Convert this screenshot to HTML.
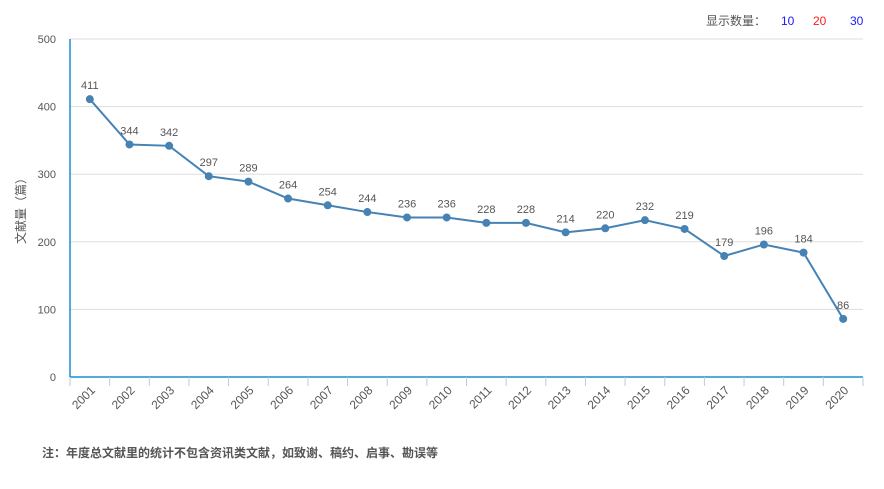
<!DOCTYPE html>
<html><head><meta charset="utf-8"><style>
body{margin:0;background:#fff;font-family:"Liberation Sans","Noto Sans CJK SC",sans-serif;}
svg text{font-family:"Liberation Sans","Noto Sans CJK SC",sans-serif;}
</style></head><body>
<svg width="884" height="484">
<g>
<text x="706" y="25" font-size="12" fill="#555">显示数量：</text>
<text x="781" y="25" font-size="12" fill="#1a1aff">10</text>
<text x="813" y="25" font-size="12" fill="#ff1a1a">20</text>
<text x="850" y="25" font-size="12" fill="#1a1aff">30</text>
</g>
<g id="grid"></g><g id="axes"></g><g id="series"></g>
<text transform="translate(25,208) rotate(-90)" text-anchor="middle" font-size="12" fill="#555">文献量（篇）</text>
<text x="42" y="457" font-size="12" font-weight="bold" fill="#555">注：年度总文献里的统计不包含资讯类文献，如致谢、稿约、启事、勘误等</text>
</svg>
<script>
const categories=["2001","2002","2003","2004","2005","2006","2007","2008","2009","2010","2011","2012","2013","2014","2015","2016","2017","2018","2019","2020"];
const values=[411,344,342,297,289,264,254,244,236,236,228,228,214,220,232,219,179,196,184,86];
const yTicks=[0,100,200,300,400,500];
const NS="http://www.w3.org/2000/svg";
const X0=70,X1=863,Y0=377,Y1=39,YMAX=500;
const bw=(X1-X0)/categories.length;
const xs=i=>X0+bw*(i+0.5);
const ys=v=>Y0-(v/YMAX)*(Y0-Y1);
function mk(t,a,p){const e=document.createElementNS(NS,t);for(const k in a)e.setAttribute(k,a[k]);p.appendChild(e);return e;}
const grid=document.getElementById('grid'),axes=document.getElementById('axes'),ser=document.getElementById('series');
yTicks.forEach(t=>{
 if(t>0){const l=mk('line',{x1:X0,x2:X1,y1:ys(t),y2:ys(t),stroke:'#ddd'},grid);
 
 }
 const tx=mk('text',{x:56,y:ys(t)+4,'text-anchor':'end','font-size':11,fill:'#555'},axes);tx.textContent=t;
 
 
});
const ya=mk('line',{x1:X0,x2:X0,y1:Y1,y2:Y0,stroke:'#1a8fd0','stroke-width':1.5},axes);


const xa=mk('line',{x1:X0,x2:X1,y1:Y0,y2:Y0,stroke:'#1a8fd0','stroke-width':1.5},axes);


for(let i=0;i<=categories.length;i++){mk('line',{x1:X0+bw*i,x2:X0+bw*i,y1:Y0,y2:Y0+9,stroke:'#bcd'},axes);}
categories.forEach((c,i)=>{
 const x=xs(i);
 const t=mk('text',{x:x+6,y:Y0+14,'text-anchor':'end','font-size':12,fill:'#555',transform:`rotate(-45 ${x+6} ${Y0+14})`},axes);t.textContent=c;
 
 
});
const pl=mk('polyline',{points:values.map((v,i)=>xs(i)+','+ys(v)).join(' '),fill:'none',stroke:'#4682b4','stroke-width':2},ser);


values.forEach((v,i)=>{
 const c=mk('circle',{cx:xs(i),cy:ys(v),r:4,fill:'#4682b4'},ser);
 
 
 const t=mk('text',{x:xs(i),y:ys(v)-10,'text-anchor':'middle','font-size':11,fill:'#555'},ser);t.textContent=v;
 
 
});
</script>
</body></html>
